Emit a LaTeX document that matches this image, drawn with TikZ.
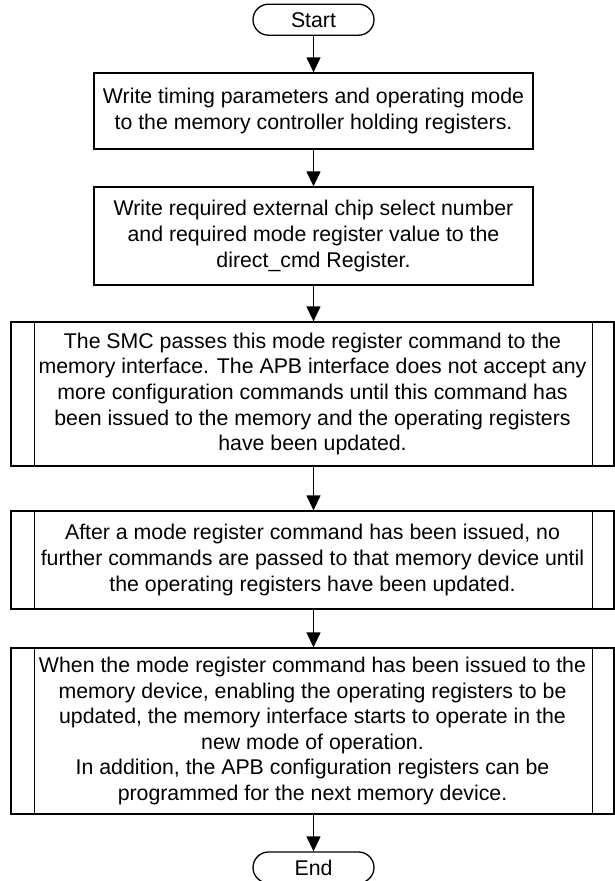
\documentclass[tikz,border=0pt]{standalone}
\usepackage{fontspec}
\setmainfont{Liberation Sans}
\usetikzlibrary{arrows.meta}
\begin{document}
\begin{tikzpicture}[x=1pt,y=-1pt,
  every node/.style={font=\fontsize{21.3}{25.6}\selectfont},
  box/.style={draw, line width=1.3pt, align=center, inner sep=0pt},
  term/.style={box, rounded corners=15.5pt, minimum width=121pt, minimum height=31pt},
  proc/.style={box, minimum width=439pt},
  predef/.style={box, minimum width=603pt},
  flow/.style={line width=1.3pt, -{Triangle[length=15pt,width=14pt]}}
]
\useasboundingbox (0,0) rectangle (615,881);

\node[term] (start) at (313.5,19.7) {Start};

\node[proc, minimum height=76pt] (b1) at (313.5,111)
  {Write timing parameters and operating mode\\to the memory controller holding registers.};

\node[proc, minimum height=98pt] (b2) at (313.5,236)
  {Write required external chip select number\\and required mode register value to the\\direct\_cmd Register.};

\node[predef, minimum height=144pt] (b3) at (312.5,394)
  {The SMC passes this mode register command to the\\
   memory interface. The APB interface does not accept any\\
   more configuration commands until this command has\\
   been issued to the memory and the operating registers\\
   have been updated.};

\node[predef, minimum height=98pt] (b4) at (312.5,560)
  {After a mode register command has been issued, no\\
   further commands are passed to that memory device until\\
   the operating registers have been updated.};

\node[predef, minimum height=166pt] (b5) at (312.5,731)
  {When the mode register command has been issued to the\\
   memory device, enabling the operating registers to be\\
   updated, the memory interface starts to operate in the\\
   new mode of operation.\\
   In addition, the APB configuration registers can be\\
   programmed for the next memory device.};

\node[term] (end) at (313.5,867.5) {End};

% inner side bars of the predefined-process boxes
\foreach \b in {b3,b4,b5}{
  \draw[line width=1.3pt] ([xshift=24pt]\b.north west) -- ([xshift=24pt]\b.south west);
  \draw[line width=1.3pt] ([xshift=-22pt]\b.north east) -- ([xshift=-22pt]\b.south east);
}

\draw[flow] (start) -- (b1);
\draw[flow] (b1) -- (b2);
\draw[flow] (b2.south) -- (b3.north -| b2.south);
\draw[flow] (b3.south -| b2.south) -- (b4.north -| b2.south);
\draw[flow] (b4.south -| b2.south) -- (b5.north -| b2.south);
\draw[flow] (b5.south -| end) -- (end);
\end{tikzpicture}
\end{document}
